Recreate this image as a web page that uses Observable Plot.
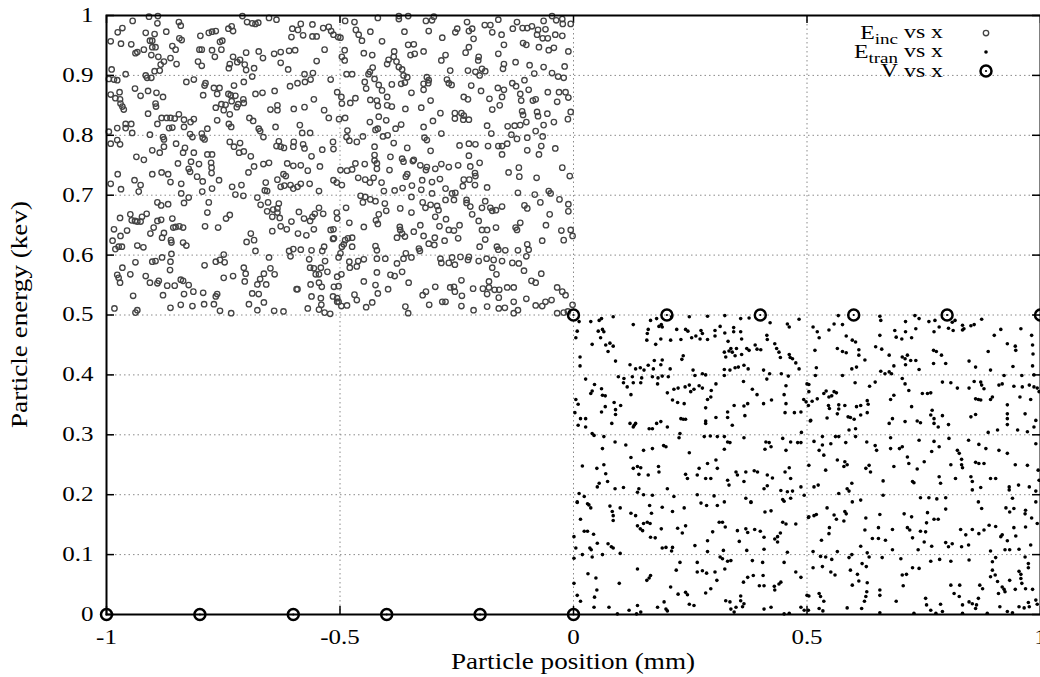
<!DOCTYPE html>
<html>
<head>
<meta charset="utf-8">
<script src="https://cdn.jsdelivr.net/npm/d3@7"></script>
<script src="https://cdn.jsdelivr.net/npm/@observablehq/plot@0.6"></script>
<style>
  html, body { margin: 0; padding: 0; background: #fff; }
  #chart { width: 1040px; height: 677px; }
</style>
</head>
<body>
<div id="chart"></div>
<script>
// ---- Data ----
const xTicks = [-1, -0.5, 0, 0.5, 1];
const xTickLabels = ["-1", "-0.5", "0", "0.5", "1"];
const yTicks = [0, 0.1, 0.2, 0.3, 0.4, 0.5, 0.6, 0.7, 0.8, 0.9, 1];
const yTickLabels = ["0", "0.1", "0.2", "0.3", "0.4", "0.5", "0.6", "0.7", "0.8", "0.9", "1"];

// E_inc vs x  (x, E)
const eInc = [
[-0.909,0.998],[-0.890,0.999],[-0.944,0.991],[-0.891,0.987],[-0.845,0.989],[-0.841,0.983],[-0.709,0.999],[-0.699,0.989],[-0.688,0.987],[-0.681,0.986],[-0.675,0.988],[-0.652,0.996],[-0.636,0.993],[-0.602,0.978],[-0.584,0.986],[-0.559,0.985],[-0.536,0.979],[-0.524,0.981],[-0.519,0.974],[-0.514,0.968],[-0.504,0.964],[-0.966,0.979],[-0.976,0.972],[-0.991,0.957],[-0.969,0.953],[-0.916,0.971],[-0.897,0.969],[-0.902,0.958],[-0.907,0.958],[-0.872,0.973],[-0.839,0.959],[-0.844,0.962],[-0.799,0.966],[-0.781,0.971],[-0.774,0.973],[-0.766,0.974],[-0.739,0.978],[-0.732,0.982],[-0.729,0.974],[-0.757,0.956],[-0.752,0.958],[-0.604,0.964],[-0.590,0.976],[-0.579,0.967],[-0.559,0.965],[-0.550,0.965],[-0.947,0.952],[-0.938,0.937],[-0.934,0.939],[-0.920,0.943],[-0.902,0.947],[-0.895,0.947],[-0.859,0.949],[-0.852,0.943],[-0.904,0.934],[-0.889,0.931],[-0.877,0.923],[-0.863,0.929],[-0.850,0.919],[-0.884,0.918],[-0.897,0.907],[-0.886,0.908],[-0.916,0.900],[-0.913,0.896],[-0.904,0.896],[-0.959,0.902],[-0.989,0.910],[-0.995,0.894],[-0.984,0.893],[-0.977,0.892],[-0.801,0.943],[-0.796,0.943],[-0.774,0.942],[-0.754,0.943],[-0.768,0.931],[-0.804,0.923],[-0.796,0.916],[-0.729,0.931],[-0.701,0.938],[-0.674,0.940],[-0.665,0.929],[-0.641,0.936],[-0.627,0.939],[-0.609,0.941],[-0.596,0.942],[-0.627,0.921],[-0.611,0.910],[-0.736,0.919],[-0.738,0.912],[-0.720,0.922],[-0.714,0.926],[-0.704,0.918],[-0.701,0.909],[-0.684,0.912],[-0.688,0.898],[-0.576,0.902],[-0.558,0.904],[-0.563,0.893],[-0.550,0.924],[-0.533,0.943],[-0.520,0.893],[-0.506,0.872],[-0.575,0.889],[-0.591,0.887],
[-0.939,0.878],[-0.911,0.874],[-0.927,0.866],[-0.991,0.868],[-0.981,0.862],[-0.971,0.860],[-0.970,0.853],[-0.966,0.848],[-0.963,0.843],[-0.972,0.872],[-0.893,0.871],[-0.895,0.853],[-0.894,0.848],[-0.879,0.864],[-0.829,0.889],[-0.813,0.893],[-0.788,0.887],[-0.790,0.883],[-0.770,0.879],[-0.758,0.879],[-0.763,0.869],[-0.739,0.869],[-0.734,0.867],[-0.724,0.866],[-0.793,0.867],[-0.707,0.860],[-0.706,0.854],[-0.706,0.889],[-0.727,0.883],[-0.681,0.869],[-0.666,0.871],[-0.640,0.874],[-0.607,0.882],[-0.718,0.852],[-0.721,0.847],[-0.732,0.857],[-0.745,0.851],[-0.754,0.852],[-0.766,0.846],[-0.749,0.842],[-0.736,0.835],[-0.634,0.850],[-0.634,0.842],[-0.649,0.843],[-0.599,0.844],[-0.576,0.847],[-0.556,0.860],[-0.534,0.842],[-0.524,0.829],[-0.502,0.827],[-0.911,0.836],[-0.882,0.829],[-0.871,0.829],[-0.863,0.829],[-0.854,0.828],[-0.845,0.835],[-0.834,0.826],[-0.813,0.827],[-0.820,0.822],[-0.763,0.825],[-0.738,0.819],[-0.733,0.814],[-0.694,0.829],[-0.686,0.824],[-0.674,0.811],[-0.671,0.807],[-0.664,0.797],[-0.638,0.814],[-0.586,0.817],[-0.581,0.804],[-0.564,0.804],[-0.959,0.819],[-0.947,0.819],[-0.977,0.812],[-0.959,0.812],[-0.945,0.804],[-0.995,0.806],[-0.891,0.819],[-0.866,0.812],[-0.859,0.813],[-0.834,0.814],[-0.784,0.811],[-0.907,0.801],[-0.879,0.797],[-0.877,0.793],[-0.991,0.786],[-0.977,0.792],[-0.971,0.785],[-0.851,0.786],[-0.877,0.781],[-0.902,0.775],[-0.886,0.771],[-0.832,0.779],[-0.836,0.771],[-0.821,0.802],[-0.816,0.797],[-0.796,0.803],[-0.794,0.796],[-0.790,0.793],[-0.736,0.789],[-0.727,0.781],[-0.714,0.787],[-0.716,0.771],[-0.706,0.773],[-0.784,0.768],[-0.774,0.768],[-0.813,0.771],[-0.691,0.765],[-0.631,0.790],[-0.636,0.782],[-0.627,0.781],[-0.620,0.779],[-0.599,0.789],[-0.600,0.781],[-0.579,0.785],[-0.576,0.778],[-0.561,0.765],[-0.538,0.776],[-0.515,0.789],[-0.514,0.777],[-0.936,0.764],[-0.920,0.759],
[-0.976,0.735],[-0.969,0.710],[-0.940,0.725],[-0.927,0.717],[-0.931,0.706],[-0.902,0.735],[-0.882,0.738],[-0.868,0.735],[-0.863,0.722],[-0.847,0.753],[-0.840,0.719],[-0.824,0.744],[-0.821,0.739],[-0.819,0.756],[-0.802,0.752],[-0.806,0.731],[-0.794,0.723],[-0.776,0.754],[-0.775,0.746],[-0.775,0.737],[-0.759,0.725],[-0.731,0.714],[-0.711,0.717],[-0.724,0.701],[-0.707,0.699],[-0.696,0.738],[-0.684,0.748],[-0.664,0.752],[-0.652,0.754],[-0.613,0.753],[-0.600,0.749],[-0.584,0.750],[-0.569,0.741],[-0.543,0.748],[-0.514,0.725],[-0.507,0.721],[-0.616,0.732],[-0.621,0.735],[-0.634,0.726],[-0.627,0.714],[-0.619,0.716],[-0.606,0.717],[-0.600,0.711],[-0.591,0.714],[-0.584,0.719],[-0.565,0.719],[-0.545,0.707],[-0.661,0.708],[-0.656,0.707],[-0.659,0.721],[-0.677,0.696],[-0.840,0.703],[-0.824,0.696],[-0.834,0.687],[-0.795,0.706],[-0.774,0.711],[-0.991,0.719],[-0.891,0.688],[-0.883,0.683],[-0.868,0.685],[-0.781,0.688],[-0.784,0.671],[-0.736,0.667],[-0.744,0.661],[-0.670,0.684],[-0.654,0.688],[-0.631,0.686],[-0.656,0.673],[-0.643,0.676],[-0.634,0.678],[-0.634,0.671],[-0.645,0.664],[-0.629,0.662],[-0.604,0.656],[-0.588,0.672],[-0.577,0.661],[-0.564,0.657],[-0.545,0.679],[-0.536,0.669],[-0.507,0.671],[-0.554,0.669],[-0.559,0.664],[-0.614,0.643],[-0.645,0.640],[-0.627,0.648],[-0.590,0.636],[-0.572,0.633],[-0.556,0.643],[-0.514,0.643],[-0.513,0.628],
[-0.971,0.662],[-0.949,0.668],[-0.946,0.658],[-0.939,0.657],[-0.934,0.656],[-0.927,0.656],[-0.924,0.664],[-0.914,0.669],[-0.891,0.657],[-0.883,0.659],[-0.859,0.661],[-0.857,0.646],[-0.852,0.647],[-0.844,0.648],[-0.836,0.646],[-0.877,0.637],[-0.899,0.646],[-0.906,0.636],[-0.881,0.629],[-0.862,0.625],[-0.861,0.621],[-0.836,0.621],[-0.829,0.616],[-0.956,0.641],[-0.970,0.632],[-0.984,0.643],[-0.987,0.624],[-0.981,0.610],[-0.974,0.614],[-0.967,0.614],[-0.934,0.616],[-0.921,0.613],[-0.789,0.648],[-0.761,0.646],[-0.691,0.636],[-0.684,0.625],[-0.700,0.622],[-0.681,0.607],[-0.609,0.607],[-0.600,0.610],[-0.584,0.609],[-0.606,0.598],[-0.561,0.608],[-0.538,0.607],[-0.534,0.614],[-0.520,0.642],[-0.515,0.627],[-0.902,0.589],[-0.895,0.590],[-0.881,0.596],[-0.861,0.602],[-0.863,0.589],[-0.864,0.575],[-0.938,0.588],[-0.949,0.568],[-0.977,0.567],[-0.974,0.562],[-0.971,0.554],[-0.966,0.579],[-0.916,0.565],[-0.907,0.554],[-0.891,0.553],[-0.888,0.557],[-0.870,0.549],[-0.854,0.549],[-0.841,0.559],[-0.836,0.557],[-0.824,0.550],[-0.790,0.583],[-0.766,0.589],[-0.757,0.592],[-0.749,0.601],[-0.747,0.588],[-0.749,0.562],[-0.729,0.565],[-0.706,0.579],[-0.702,0.569],[-0.704,0.556],[-0.677,0.551],[-0.671,0.560],[-0.663,0.569],[-0.658,0.551],[-0.652,0.596],[-0.649,0.578],[-0.640,0.568],[-0.566,0.593],[-0.564,0.579],[-0.556,0.578],[-0.541,0.579],[-0.552,0.568],[-0.545,0.568],[-0.527,0.572],[-0.532,0.590],[-0.506,0.564],[-0.591,0.543],[-0.563,0.551],[-0.545,0.554],[-0.539,0.547],[-0.513,0.547],[-0.561,0.531],[-0.541,0.528],[-0.515,0.531],[-0.506,0.522],[-0.943,0.532],[-0.983,0.511],[-0.934,0.508],[-0.938,0.504],[-0.879,0.533],[-0.863,0.512],[-0.834,0.535],[-0.816,0.515],[-0.814,0.539],[-0.791,0.518],[-0.793,0.537],[-0.770,0.518],[-0.766,0.531],[-0.763,0.535],[-0.757,0.507],[-0.733,0.503],[-0.695,0.518],[-0.677,0.508],[-0.663,0.521],[-0.641,0.507],[-0.621,0.506],[-0.593,0.543],[-0.569,0.511],[-0.545,0.509],[-0.540,0.517],[-0.533,0.504],[-0.521,0.502],[-0.674,0.535],[-0.688,0.536],[-0.841,0.517],
[-0.489,0.991],[-0.469,0.989],[-0.419,0.996],[-0.374,0.999],[-0.354,0.999],[-0.374,0.994],[-0.316,0.991],[-0.303,0.992],[-0.299,0.998],[-0.466,0.976],[-0.460,0.968],[-0.453,0.958],[-0.435,0.973],[-0.410,0.957],[-0.362,0.973],[-0.354,0.951],[-0.342,0.952],[-0.281,0.963],[-0.310,0.974],[-0.253,0.972],[-0.249,0.978],[-0.228,0.989],[-0.224,0.974],[-0.217,0.978],[-0.214,0.961],[-0.190,0.984],[-0.178,0.984],[-0.174,0.972],[-0.161,0.993],[-0.154,0.968],[-0.130,0.978],[-0.121,0.989],[-0.109,0.979],[-0.099,0.979],[-0.089,0.982],[-0.076,0.976],[-0.078,0.968],[-0.066,0.962],[-0.055,0.962],[-0.060,0.977],[-0.039,0.968],[-0.024,0.966],[-0.037,0.992],[-0.024,0.994],[-0.023,0.986],[-0.046,0.999],[-0.006,0.986],[-0.064,0.991],[-0.149,0.951],[-0.161,0.936],[-0.108,0.954],[-0.101,0.951],[-0.074,0.947],[-0.053,0.942],[-0.042,0.946],[-0.011,0.940],[-0.499,0.963],[-0.490,0.942],[-0.496,0.931],[-0.490,0.925],[-0.431,0.934],[-0.449,0.937],[-0.399,0.919],[-0.396,0.926],[-0.385,0.931],[-0.379,0.923],[-0.384,0.940],[-0.374,0.914],[-0.367,0.910],[-0.349,0.934],[-0.340,0.936],[-0.321,0.940],[-0.283,0.925],[-0.274,0.934],[-0.231,0.938],[-0.224,0.947],[-0.203,0.931],[-0.204,0.925],[-0.196,0.911],[-0.189,0.907],[-0.201,0.900],[-0.226,0.908],[-0.210,0.906],[-0.149,0.919],[-0.151,0.911],[-0.124,0.922],[-0.094,0.917],[-0.084,0.903],[-0.064,0.914],[-0.046,0.904],[-0.033,0.898],[-0.021,0.896],[-0.019,0.915],
[-0.486,0.902],[-0.474,0.902],[-0.447,0.889],[-0.444,0.878],[-0.439,0.902],[-0.430,0.913],[-0.436,0.906],[-0.426,0.894],[-0.417,0.884],[-0.410,0.875],[-0.421,0.858],[-0.435,0.859],[-0.399,0.864],[-0.389,0.885],[-0.364,0.900],[-0.356,0.897],[-0.361,0.888],[-0.369,0.886],[-0.347,0.871],[-0.321,0.886],[-0.311,0.887],[-0.310,0.892],[-0.321,0.876],[-0.314,0.897],[-0.271,0.893],[-0.267,0.887],[-0.261,0.884],[-0.264,0.908],[-0.306,0.858],[-0.326,0.846],[-0.360,0.844],[-0.389,0.848],[-0.399,0.850],[-0.419,0.849],[-0.417,0.831],[-0.497,0.864],[-0.496,0.853],[-0.478,0.854],[-0.467,0.862],[-0.489,0.829],[-0.484,0.808],[-0.486,0.797],[-0.480,0.791],[-0.464,0.789],[-0.451,0.798],[-0.436,0.822],[-0.424,0.809],[-0.419,0.811],[-0.408,0.798],[-0.398,0.800],[-0.401,0.825],[-0.381,0.811],[-0.369,0.818],[-0.385,0.787],[-0.356,0.779],[-0.321,0.814],[-0.319,0.796],[-0.314,0.792],[-0.301,0.824],[-0.285,0.837],[-0.283,0.803],[-0.254,0.837],[-0.254,0.828],[-0.240,0.837],[-0.235,0.833],[-0.236,0.826],[-0.224,0.826],[-0.235,0.864],[-0.226,0.860],[-0.219,0.883],[-0.198,0.874],[-0.180,0.861],[-0.162,0.879],[-0.153,0.864],[-0.149,0.876],[-0.174,0.843],[-0.158,0.850],[-0.185,0.816],[-0.176,0.803],[-0.131,0.887],[-0.123,0.882],[-0.114,0.869],[-0.112,0.858],[-0.096,0.876],[-0.105,0.892],[-0.087,0.858],[-0.081,0.860],[-0.055,0.872],[-0.031,0.872],[-0.035,0.856],[-0.011,0.863],[-0.017,0.872],[-0.110,0.840],[-0.108,0.834],[-0.078,0.839],[-0.076,0.832],[-0.056,0.836],[-0.042,0.822],[-0.064,0.817],[-0.101,0.822],[-0.114,0.817],[-0.126,0.816],[-0.141,0.815],[-0.012,0.827],[-0.006,0.839],[-0.133,0.801],[-0.121,0.794],[-0.099,0.796],[-0.081,0.807],[-0.066,0.798],[-0.244,0.783],[-0.224,0.786],[-0.210,0.785],[-0.183,0.782],[-0.161,0.782],[-0.153,0.782],[-0.142,0.786],[-0.426,0.781],[-0.426,0.767],[-0.392,0.764],[-0.367,0.761],[-0.342,0.759],[-0.224,0.766],[-0.153,0.768],[-0.099,0.775],[-0.074,0.768],[-0.069,0.782],[-0.039,0.778],[-0.306,0.774],
[-0.499,0.742],[-0.485,0.741],[-0.474,0.743],[-0.467,0.753],[-0.447,0.752],[-0.421,0.753],[-0.421,0.744],[-0.394,0.742],[-0.426,0.758],[-0.461,0.729],[-0.446,0.726],[-0.428,0.729],[-0.411,0.721],[-0.364,0.756],[-0.356,0.735],[-0.359,0.731],[-0.344,0.757],[-0.328,0.750],[-0.314,0.747],[-0.316,0.742],[-0.296,0.744],[-0.283,0.752],[-0.267,0.747],[-0.247,0.750],[-0.221,0.748],[-0.201,0.754],[-0.211,0.737],[-0.210,0.732],[-0.223,0.726],[-0.235,0.726],[-0.211,0.717],[-0.237,0.715],[-0.185,0.713],[-0.139,0.738],[-0.117,0.746],[-0.116,0.731],[-0.079,0.729],[-0.024,0.746],[-0.008,0.732],[-0.496,0.717],[-0.436,0.721],[-0.406,0.707],[-0.383,0.708],[-0.366,0.712],[-0.346,0.716],[-0.324,0.725],[-0.303,0.722],[-0.286,0.727],[-0.326,0.709],[-0.303,0.703],[-0.274,0.711],[-0.456,0.699],[-0.446,0.697],[-0.451,0.688],[-0.435,0.693],[-0.424,0.690],[-0.404,0.686],[-0.401,0.674],[-0.417,0.668],[-0.423,0.658],[-0.371,0.678],[-0.347,0.671],[-0.347,0.697],[-0.323,0.688],[-0.317,0.679],[-0.306,0.684],[-0.292,0.682],[-0.289,0.675],[-0.296,0.664],[-0.274,0.692],[-0.256,0.692],[-0.260,0.703],[-0.253,0.704],[-0.229,0.692],[-0.229,0.687],[-0.221,0.681],[-0.217,0.668],[-0.203,0.657],[-0.189,0.690],[-0.196,0.679],[-0.178,0.679],[-0.174,0.674],[-0.166,0.675],[-0.153,0.681],[-0.119,0.704],[-0.105,0.683],[-0.099,0.678],[-0.083,0.701],[-0.071,0.688],[-0.053,0.707],[-0.049,0.703],[-0.030,0.693],[-0.011,0.685],[-0.011,0.673],[-0.051,0.668],[-0.487,0.679],[-0.506,0.661],[-0.480,0.654],
[-0.489,0.625],[-0.483,0.628],[-0.474,0.629],[-0.492,0.618],[-0.474,0.614],[-0.496,0.614],[-0.499,0.603],[-0.503,0.596],[-0.449,0.647],[-0.419,0.652],[-0.424,0.615],[-0.421,0.608],[-0.372,0.647],[-0.371,0.642],[-0.367,0.636],[-0.378,0.629],[-0.361,0.631],[-0.342,0.639],[-0.328,0.650],[-0.321,0.632],[-0.310,0.619],[-0.298,0.617],[-0.297,0.629],[-0.287,0.648],[-0.273,0.660],[-0.256,0.641],[-0.267,0.642],[-0.276,0.624],[-0.247,0.628],[-0.244,0.650],[-0.196,0.642],[-0.185,0.642],[-0.189,0.626],[-0.201,0.614],[-0.166,0.646],[-0.124,0.646],[-0.121,0.642],[-0.114,0.654],[-0.059,0.650],[-0.026,0.641],[-0.006,0.642],[-0.002,0.632],[-0.021,0.625],[-0.067,0.624],[-0.099,0.618],[-0.119,0.608],[-0.096,0.609],[-0.146,0.608],[-0.164,0.614],[-0.161,0.609],[-0.331,0.611],[-0.329,0.607],[-0.359,0.603],[-0.497,0.568],[-0.503,0.548],[-0.506,0.528],[-0.497,0.515],[-0.485,0.516],[-0.480,0.589],[-0.479,0.579],[-0.464,0.581],[-0.461,0.590],[-0.449,0.593],[-0.421,0.594],[-0.421,0.571],[-0.403,0.594],[-0.378,0.586],[-0.364,0.594],[-0.347,0.596],[-0.392,0.567],[-0.383,0.565],[-0.367,0.572],[-0.353,0.554],[-0.285,0.594],[-0.283,0.587],[-0.267,0.587],[-0.260,0.596],[-0.254,0.584],[-0.242,0.597],[-0.224,0.597],[-0.226,0.592],[-0.203,0.590],[-0.186,0.594],[-0.174,0.579],[-0.171,0.592],[-0.165,0.568],[-0.153,0.590],[-0.131,0.587],[-0.117,0.586],[-0.101,0.598],[-0.106,0.574],[-0.081,0.554],[-0.069,0.569],[-0.090,0.557],[-0.449,0.556],[-0.424,0.550],[-0.397,0.543],[-0.419,0.536],[-0.431,0.521],[-0.444,0.513],[-0.464,0.525],[-0.469,0.534],[-0.323,0.533],[-0.316,0.539],[-0.296,0.547],[-0.274,0.522],[-0.264,0.546],[-0.256,0.547],[-0.254,0.539],[-0.240,0.558],[-0.239,0.532],[-0.215,0.544],[-0.214,0.508],[-0.194,0.544],[-0.181,0.556],[-0.181,0.546],[-0.185,0.535],[-0.169,0.542],[-0.159,0.542],[-0.160,0.529],[-0.142,0.546],[-0.128,0.546],[-0.128,0.522],[-0.101,0.527],[-0.081,0.516],[-0.067,0.515],[-0.060,0.522],[-0.047,0.525],[-0.035,0.546],[-0.024,0.539],[-0.017,0.533],[-0.035,0.503],[-0.021,0.504],[-0.012,0.506],[-0.002,0.517],[-0.360,0.514],[-0.354,0.503],[-0.309,0.517],[-0.281,0.522],[-0.240,0.515],[-0.185,0.514],[-0.160,0.511],[-0.147,0.512],[-0.128,0.503],[-0.119,0.508],[-0.503,0.522]
];

// E_tran vs x  (x, E)
const eTran = [
[0.012,0.489],[0.037,0.489],[0.055,0.491],[0.060,0.494],[0.085,0.497],[0.128,0.484],[0.165,0.491],[0.178,0.494],[0.188,0.484],[0.210,0.497],[0.248,0.497],[0.287,0.498],[0.324,0.499],[0.358,0.494],[0.376,0.495],[0.421,0.487],[0.458,0.485],[0.462,0.480],[0.483,0.493],[0.005,0.462],[0.008,0.473],[0.053,0.473],[0.062,0.476],[0.065,0.472],[0.058,0.462],[0.040,0.451],[0.069,0.450],[0.078,0.453],[0.085,0.448],[0.074,0.439],[0.014,0.430],[0.014,0.415],[0.090,0.423],[0.121,0.417],[0.133,0.410],[0.143,0.412],[0.158,0.469],[0.157,0.458],[0.160,0.476],[0.183,0.481],[0.190,0.480],[0.187,0.460],[0.176,0.451],[0.208,0.458],[0.221,0.476],[0.230,0.459],[0.232,0.426],[0.235,0.432],[0.240,0.476],[0.245,0.473],[0.253,0.462],[0.262,0.465],[0.273,0.474],[0.271,0.460],[0.276,0.469],[0.287,0.459],[0.303,0.465],[0.303,0.474],[0.314,0.481],[0.324,0.470],[0.343,0.479],[0.343,0.472],[0.331,0.456],[0.360,0.460],[0.358,0.472],[0.337,0.444],[0.333,0.440],[0.340,0.438],[0.349,0.444],[0.326,0.430],[0.323,0.438],[0.346,0.432],[0.360,0.434],[0.371,0.444],[0.376,0.441],[0.389,0.450],[0.393,0.443],[0.401,0.442],[0.414,0.466],[0.415,0.459],[0.431,0.452],[0.435,0.444],[0.440,0.438],[0.443,0.429],[0.462,0.434],[0.464,0.429],[0.476,0.420],[0.469,0.427],[0.483,0.410],[0.173,0.424],[0.187,0.417],[0.190,0.425],[0.171,0.410],[0.207,0.410],[0.160,0.416],[0.151,0.408],[0.323,0.409],[0.335,0.408],[0.346,0.412],[0.353,0.413],[0.365,0.416],[0.374,0.410],[0.323,0.399],[0.256,0.408],[0.260,0.399],[0.276,0.402],[0.283,0.400],[0.407,0.408],[0.420,0.402],[0.445,0.402],[0.460,0.398],
[0.026,0.393],[0.040,0.373],[0.037,0.369],[0.045,0.384],[0.060,0.377],[0.062,0.366],[0.068,0.365],[0.068,0.347],[0.060,0.338],[0.005,0.359],[0.010,0.351],[0.003,0.337],[0.015,0.327],[0.026,0.327],[0.026,0.313],[0.010,0.316],[0.087,0.354],[0.090,0.342],[0.090,0.334],[0.082,0.319],[0.101,0.349],[0.096,0.397],[0.108,0.394],[0.107,0.387],[0.126,0.397],[0.128,0.387],[0.144,0.387],[0.115,0.380],[0.123,0.367],[0.146,0.395],[0.169,0.397],[0.181,0.395],[0.180,0.385],[0.190,0.398],[0.203,0.397],[0.201,0.370],[0.212,0.358],[0.215,0.376],[0.224,0.378],[0.223,0.354],[0.237,0.352],[0.248,0.383],[0.239,0.380],[0.251,0.372],[0.258,0.376],[0.269,0.382],[0.276,0.378],[0.287,0.359],[0.295,0.374],[0.294,0.363],[0.305,0.385],[0.283,0.345],[0.230,0.327],[0.235,0.326],[0.240,0.326],[0.283,0.323],[0.283,0.319],[0.305,0.329],[0.330,0.338],[0.330,0.329],[0.340,0.316],[0.344,0.349],[0.365,0.348],[0.367,0.332],[0.373,0.352],[0.364,0.389],[0.383,0.376],[0.393,0.367],[0.407,0.352],[0.414,0.393],[0.424,0.358],[0.455,0.382],[0.451,0.367],[0.455,0.352],[0.453,0.337],[0.473,0.337],[0.493,0.359],[0.498,0.355],[0.500,0.385],[0.487,0.338],[0.507,0.323],[0.121,0.319],[0.130,0.316],[0.133,0.319],[0.128,0.313],[0.178,0.319],[0.187,0.322],[0.169,0.310],[0.162,0.310],[0.201,0.313],[0.228,0.302],[0.226,0.295],[0.248,0.270],[0.280,0.297],[0.293,0.298],[0.308,0.297],[0.323,0.297],[0.330,0.288],[0.335,0.287],[0.323,0.276],[0.365,0.295],[0.412,0.288],[0.419,0.287],[0.410,0.276],[0.423,0.280],[0.448,0.294],[0.465,0.288],[0.480,0.287],[0.487,0.287],[0.488,0.304],[0.455,0.274],[0.040,0.302],[0.044,0.299],[0.065,0.297],[0.062,0.277],[0.089,0.288],[0.112,0.283],[0.123,0.262],[0.150,0.274],[0.169,0.277],[0.193,0.282],[0.198,0.280],
[0.019,0.248],[0.065,0.250],[0.050,0.244],[0.069,0.235],[0.128,0.244],[0.137,0.247],[0.144,0.245],[0.140,0.234],[0.182,0.247],[0.160,0.233],[0.183,0.238],[0.269,0.244],[0.287,0.252],[0.305,0.258],[0.308,0.244],[0.348,0.238],[0.351,0.233],[0.369,0.238],[0.387,0.240],[0.394,0.238],[0.415,0.233],[0.426,0.228],[0.453,0.238],[0.462,0.245],[0.465,0.227],[0.265,0.233],[0.240,0.234],[0.244,0.227],[0.283,0.227],[0.294,0.227],[0.330,0.224],[0.365,0.222],[0.055,0.219],[0.051,0.213],[0.073,0.222],[0.089,0.210],[0.107,0.212],[0.140,0.210],[0.137,0.204],[0.150,0.200],[0.169,0.199],[0.201,0.210],[0.215,0.197],[0.333,0.216],[0.408,0.210],[0.415,0.215],[0.444,0.207],[0.458,0.205],[0.469,0.206],[0.023,0.197],[0.012,0.202],[0.008,0.188],[0.030,0.185],[0.265,0.200],[0.301,0.198],[0.323,0.188],[0.369,0.194],[0.380,0.188],[0.448,0.192],[0.465,0.194],[0.494,0.199],[0.487,0.213],
[0.008,0.187],[0.033,0.183],[0.037,0.178],[0.078,0.181],[0.100,0.178],[0.163,0.182],[0.190,0.179],[0.237,0.178],[0.273,0.186],[0.285,0.182],[0.308,0.182],[0.380,0.187],[0.451,0.189],[0.015,0.159],[0.023,0.139],[0.030,0.139],[0.043,0.134],[0.001,0.130],[0.005,0.111],[0.001,0.094],[0.019,0.100],[0.035,0.111],[0.038,0.108],[0.040,0.096],[0.051,0.119],[0.062,0.100],[0.074,0.118],[0.081,0.113],[0.085,0.111],[0.100,0.102],[0.083,0.172],[0.085,0.165],[0.085,0.157],[0.123,0.169],[0.133,0.165],[0.143,0.143],[0.137,0.148],[0.150,0.152],[0.158,0.154],[0.164,0.152],[0.167,0.169],[0.148,0.140],[0.165,0.129],[0.175,0.128],[0.188,0.143],[0.212,0.172],[0.223,0.144],[0.233,0.136],[0.240,0.148],[0.190,0.111],[0.198,0.112],[0.212,0.112],[0.210,0.106],[0.137,0.076],[0.162,0.061],[0.157,0.057],[0.165,0.065],[0.098,0.052],[0.031,0.068],[0.048,0.061],[0.050,0.041],[0.045,0.029],[0.044,0.012],[0.001,0.052],[0.008,0.032],[0.015,0.022],[0.119,0.007],[0.137,0.015],[0.144,0.004],[0.180,0.012],[0.194,0.021],[0.198,0.009],[0.201,0.006],[0.208,0.046],[0.220,0.074],[0.224,0.034],[0.228,0.087],[0.240,0.037],[0.244,0.033],[0.248,0.017],[0.258,0.015],[0.260,0.115],[0.265,0.087],[0.265,0.071],[0.276,0.073],[0.283,0.036],[0.285,0.069],[0.287,0.105],[0.287,0.123],[0.294,0.043],[0.298,0.138],[0.303,0.071],[0.307,0.057],[0.312,0.154],[0.319,0.154],[0.325,0.146],[0.321,0.107],[0.319,0.093],[0.324,0.076],[0.330,0.089],[0.337,0.090],[0.314,0.096],[0.326,0.023],[0.335,0.021],[0.337,0.009],[0.344,0.004],[0.348,0.012],[0.358,0.023],[0.362,0.013],[0.364,0.054],[0.358,0.031],[0.365,0.018],[0.373,0.062],[0.351,0.140],[0.355,0.122],[0.369,0.143],[0.373,0.137],[0.371,0.107],[0.383,0.090],[0.385,0.065],[0.388,0.142],[0.400,0.139],[0.405,0.087],[0.408,0.109],[0.408,0.129],[0.410,0.171],[0.423,0.173],[0.431,0.126],[0.437,0.130],[0.443,0.136],[0.437,0.121],[0.448,0.154],[0.455,0.151],[0.451,0.087],[0.458,0.104],[0.430,0.047],[0.431,0.041],[0.408,0.048],[0.398,0.048],[0.406,0.065],[0.440,0.051],[0.444,0.054],[0.423,0.012],[0.408,0.009],[0.451,0.001],[0.462,0.002],[0.476,0.071],[0.487,0.062],[0.487,0.012],[0.494,0.007],[0.500,0.032],[0.503,0.162],[0.476,0.151],[0.503,0.007],[0.094,0.001],[0.076,0.012],[0.135,0.001],
[0.567,0.499],[0.656,0.498],[0.658,0.491],[0.711,0.489],[0.731,0.499],[0.740,0.494],[0.761,0.489],[0.774,0.491],[0.811,0.488],[0.817,0.491],[0.833,0.483],[0.836,0.477],[0.851,0.482],[0.858,0.484],[0.874,0.493],[0.513,0.480],[0.522,0.472],[0.526,0.462],[0.547,0.475],[0.558,0.485],[0.576,0.484],[0.584,0.465],[0.597,0.458],[0.604,0.455],[0.565,0.444],[0.576,0.439],[0.584,0.437],[0.611,0.442],[0.611,0.433],[0.624,0.425],[0.596,0.410],[0.606,0.413],[0.517,0.441],[0.520,0.412],[0.518,0.399],[0.647,0.447],[0.660,0.443],[0.656,0.466],[0.676,0.433],[0.688,0.474],[0.691,0.463],[0.703,0.460],[0.711,0.472],[0.724,0.462],[0.733,0.477],[0.772,0.472],[0.783,0.480],[0.803,0.478],[0.813,0.474],[0.833,0.475],[0.704,0.430],[0.710,0.427],[0.715,0.433],[0.711,0.417],[0.722,0.424],[0.733,0.424],[0.740,0.409],[0.686,0.415],[0.676,0.405],[0.658,0.406],[0.667,0.402],[0.681,0.402],[0.771,0.441],[0.777,0.439],[0.788,0.433],[0.771,0.419],[0.797,0.419],[0.847,0.423],[0.861,0.413],[0.888,0.439],[0.901,0.466],[0.915,0.476],[0.929,0.452],[0.946,0.448],[0.947,0.441],[0.958,0.477],[0.981,0.466],[0.983,0.450],[0.984,0.435],[0.983,0.415],[0.941,0.414],[0.893,0.408],[0.922,0.399],[0.960,0.399],[0.986,0.400],
[0.576,0.399],[0.603,0.387],[0.634,0.381],[0.646,0.388],[0.679,0.359],[0.686,0.366],[0.704,0.394],[0.710,0.385],[0.718,0.374],[0.747,0.369],[0.758,0.369],[0.765,0.370],[0.790,0.388],[0.808,0.387],[0.822,0.378],[0.847,0.378],[0.858,0.389],[0.872,0.388],[0.874,0.383],[0.879,0.377],[0.861,0.360],[0.867,0.359],[0.872,0.358],[0.893,0.359],[0.897,0.363],[0.911,0.383],[0.918,0.385],[0.929,0.350],[0.943,0.381],[0.961,0.380],[0.976,0.383],[0.986,0.380],[0.993,0.378],[0.997,0.372],[0.956,0.363],[0.979,0.359],[0.504,0.384],[0.504,0.372],[0.503,0.349],[0.511,0.356],[0.536,0.369],[0.541,0.373],[0.547,0.363],[0.553,0.365],[0.558,0.372],[0.563,0.370],[0.522,0.360],[0.546,0.349],[0.548,0.344],[0.568,0.350],[0.568,0.343],[0.581,0.349],[0.565,0.335],[0.543,0.328],[0.508,0.324],[0.588,0.330],[0.593,0.329],[0.601,0.326],[0.615,0.333],[0.629,0.337],[0.606,0.347],[0.615,0.349],[0.629,0.357],[0.631,0.351],[0.590,0.308],[0.604,0.310],[0.676,0.319],[0.683,0.327],[0.710,0.322],[0.724,0.347],[0.736,0.323],[0.743,0.320],[0.768,0.341],[0.772,0.327],[0.772,0.319],[0.765,0.333],[0.781,0.313],[0.790,0.332],[0.803,0.317],[0.851,0.330],[0.861,0.334],[0.888,0.304],[0.908,0.308],[0.929,0.335],[0.929,0.327],[0.929,0.317],[0.951,0.308],[0.967,0.335],[0.972,0.305],[0.986,0.313],[0.990,0.324],
[0.515,0.289],[0.533,0.297],[0.561,0.297],[0.568,0.297],[0.536,0.266],[0.533,0.283],[0.526,0.274],[0.551,0.285],[0.583,0.287],[0.604,0.297],[0.586,0.250],[0.579,0.247],[0.581,0.255],[0.540,0.241],[0.565,0.258],[0.628,0.288],[0.646,0.282],[0.649,0.274],[0.626,0.244],[0.633,0.249],[0.636,0.238],[0.679,0.295],[0.679,0.277],[0.698,0.277],[0.704,0.280],[0.715,0.263],[0.718,0.252],[0.740,0.291],[0.736,0.243],[0.751,0.255],[0.772,0.289],[0.767,0.272],[0.783,0.280],[0.804,0.294],[0.808,0.250],[0.822,0.274],[0.826,0.269],[0.831,0.259],[0.831,0.250],[0.833,0.245],[0.846,0.291],[0.861,0.254],[0.868,0.252],[0.879,0.252],[0.868,0.284],[0.883,0.277],[0.911,0.274],[0.929,0.269],[0.946,0.250],[0.972,0.249],[0.990,0.285],[0.995,0.241],[0.686,0.247],[0.726,0.222],[0.783,0.230],[0.818,0.227],[0.851,0.230],[0.854,0.222],[0.893,0.227],[0.904,0.227],[0.515,0.213],[0.524,0.216],[0.586,0.210],[0.590,0.206],[0.596,0.219],[0.663,0.223],[0.729,0.220],[0.786,0.219],[0.872,0.212],[0.933,0.213],[0.933,0.208],[0.953,0.216],[0.976,0.213],[0.990,0.206],[0.997,0.224],[0.504,0.249],[0.854,0.208],[0.568,0.202],[0.597,0.188],[0.615,0.191],[0.663,0.199],[0.743,0.195],[0.761,0.195],[0.778,0.193],[0.797,0.195],[0.867,0.188],[0.940,0.194],[0.990,0.188],
[0.504,0.163],[0.515,0.165],[0.520,0.167],[0.543,0.178],[0.558,0.166],[0.563,0.159],[0.581,0.172],[0.584,0.168],[0.579,0.156],[0.626,0.161],[0.656,0.167],[0.708,0.168],[0.724,0.163],[0.758,0.170],[0.772,0.159],[0.781,0.159],[0.756,0.153],[0.797,0.176],[0.874,0.177],[0.926,0.178],[0.934,0.171],[0.943,0.177],[0.968,0.174],[0.967,0.168],[0.981,0.161],[0.993,0.152],[0.968,0.146],[0.548,0.145],[0.547,0.135],[0.531,0.124],[0.624,0.141],[0.653,0.145],[0.683,0.142],[0.640,0.127],[0.653,0.127],[0.668,0.124],[0.715,0.145],[0.720,0.141],[0.726,0.128],[0.743,0.139],[0.751,0.121],[0.767,0.114],[0.754,0.138],[0.797,0.120],[0.803,0.113],[0.811,0.118],[0.829,0.142],[0.840,0.133],[0.831,0.113],[0.846,0.116],[0.854,0.142],[0.868,0.135],[0.879,0.141],[0.890,0.149],[0.904,0.147],[0.915,0.130],[0.918,0.133],[0.929,0.123],[0.943,0.145],[0.947,0.131],[0.924,0.108],[0.934,0.108],[0.954,0.109],[0.979,0.116],[0.513,0.105],[0.529,0.097],[0.540,0.096],[0.553,0.092],[0.565,0.105],[0.590,0.095],[0.596,0.100],[0.615,0.114],[0.629,0.103],[0.633,0.096],[0.661,0.095],[0.683,0.108],[0.701,0.093],[0.738,0.108],[0.765,0.089],[0.784,0.092],[0.808,0.089],[0.847,0.091],[0.893,0.106],[0.904,0.095],[0.967,0.096],[0.513,0.078],[0.533,0.080],[0.551,0.071],[0.560,0.066],[0.593,0.074],[0.608,0.067],[0.611,0.056],[0.618,0.085],[0.627,0.080],[0.597,0.049],[0.629,0.053],[0.704,0.066],[0.713,0.067],[0.726,0.078],[0.740,0.077],[0.706,0.048],[0.691,0.022],[0.656,0.041],[0.656,0.032],[0.628,0.038],[0.626,0.030],[0.623,0.022],[0.526,0.035],[0.529,0.030],[0.536,0.022],[0.504,0.031],[0.526,0.010],[0.534,0.006],[0.586,0.011],[0.617,0.010],[0.656,0.003],[0.729,0.002],[0.754,0.027],[0.756,0.016],[0.765,0.007],[0.776,0.002],[0.786,0.017],[0.790,0.005],[0.808,0.049],[0.815,0.035],[0.826,0.030],[0.827,0.049],[0.833,0.016],[0.847,0.021],[0.854,0.018],[0.863,0.016],[0.867,0.027],[0.870,0.049],[0.876,0.043],[0.861,0.010],[0.893,0.063],[0.897,0.074],[0.903,0.066],[0.897,0.088],[0.908,0.055],[0.910,0.035],[0.913,0.013],[0.918,0.046],[0.922,0.042],[0.924,0.038],[0.934,0.057],[0.946,0.042],[0.954,0.072],[0.958,0.067],[0.958,0.060],[0.960,0.052],[0.968,0.043],[0.974,0.085],[0.974,0.078],[0.983,0.042],[0.974,0.020],[0.976,0.013],[0.990,0.024],[0.993,0.017],[0.833,0.002],[0.886,0.002],[0.929,0.005],[0.940,0.003],[0.954,0.013],[0.965,0.011]
];

// V vs x
const vX = [-1, -0.8, -0.6, -0.4, -0.2, 0, 0, 0.2, 0.4, 0.6, 0.8, 1];
const vY = [0, 0, 0, 0, 0, 0, 0.5, 0.5, 0.5, 0.5, 0.5, 0.5];

const legendLabels = [
  {main: "E", sub: "inc", rest: " vs x"},
  {main: "E", sub: "tran", rest: " vs x"},
  {main: "V", sub: "", rest: " vs x"}
];

// ---- Build ----
const incData = eInc.map(([x, y]) => ({x, y}));
const tranData = eTran.map(([x, y]) => ({x, y}));
const vData = vX.map((x, i) => ({x, y: vY[i]}));
const xLab = new Map(xTicks.map((d, i) => [d, xTickLabels[i]]));
const yLab = new Map(yTicks.map((d, i) => [d, yTickLabels[i]]));

const W = 1040, H = 677, mL = 106, mR = 0, mT = 15, mB = 63;
const innerH = H - mT - mB, innerW = W - mL - mR;
const FONT = "Liberation Serif, Times New Roman, serif";
const STRETCH = 1.25;       // the reference's lettering is wider than Liberation Serif
const TITLE_STRETCH = 1.18;

const chart = Plot.plot({
  width: W, height: H,
  marginLeft: mL, marginRight: mR, marginTop: mT, marginBottom: mB,
  x: {domain: [-1, 1]},
  y: {domain: [0, 1]},
  style: {fontFamily: FONT, fontSize: "20px", background: "white", color: "black", overflow: "visible"},
  marks: [
    Plot.gridX(xTicks.slice(1, -1), {stroke: "#8a8a8a", strokeOpacity: 1, strokeWidth: 1, strokeDasharray: "1.5,3"}),
    Plot.gridY(yTicks.slice(1, -1), {stroke: "#8a8a8a", strokeOpacity: 1, strokeWidth: 1, strokeDasharray: "1.5,3"}),
    // inward ticks
    Plot.tickX(xTicks, {x: d => d, insetTop: innerH - 8, stroke: "black", strokeWidth: 1.5}),
    Plot.tickX(xTicks, {x: d => d, insetBottom: innerH - 8, stroke: "black", strokeWidth: 1.5}),
    Plot.tickY(yTicks, {y: d => d, insetRight: innerW - 8, stroke: "black", strokeWidth: 1.5}),
    Plot.tickY(yTicks, {y: d => d, insetLeft: innerW - 8, stroke: "black", strokeWidth: 1.5}),
    Plot.axisX(xTicks, {tickSize: 0, tickPadding: 15, tickFormat: d => xLab.get(d), label: null, fontSize: 20}),
    Plot.axisY(yTicks, {tickSize: 0, tickPadding: 13, tickFormat: d => yLab.get(d), label: null, fontSize: 20}),
    Plot.dot(incData, {x: "x", y: "y", r: 2.7, stroke: "#444", strokeWidth: 1.35, fill: "none"}),
    Plot.dot(tranData, {x: "x", y: "y", r: 1.8, fill: "black", stroke: "none"}),
    Plot.frame({stroke: "black", strokeWidth: 2}),
    Plot.dot(vData, {x: "x", y: "y", r: 5.5, stroke: "black", strokeWidth: 2.5, fill: "none"}),
    Plot.dot(vData, {x: "x", y: "y", r: 1.1, fill: "black"})
  ]
});

document.getElementById("chart").appendChild(chart);

// widen text along its own direction, around its anchor point
function widen(el, s) {
  const t = el.getAttribute("transform") || "";
  const xa = el.getAttribute("x");
  if (xa !== null && xa !== "" && !isNaN(+xa) && +xa !== 0) {
    el.removeAttribute("x");
    el.setAttribute("transform", `${t} translate(${xa},0) scale(${s},1)`.trim());
  } else {
    el.setAttribute("transform", `${t} scale(${s},1)`.trim());
  }
}
chart.querySelectorAll("text").forEach(el => widen(el, STRETCH));

// Axis titles and key
const svg = d3.select(chart);
const xs = chart.scale("x"), ys = chart.scale("y");
svg.append("text")
  .attr("transform", `translate(${xs.apply(0)},669) scale(${TITLE_STRETCH},1)`)
  .attr("text-anchor", "middle")
  .attr("font-family", FONT).attr("font-size", 23)
  .attr("fill", "black")
  .text("Particle position (mm)");
svg.append("text")
  .attr("transform", `translate(27,${ys.apply(0.5)}) rotate(-90) scale(${TITLE_STRETCH},1)`)
  .attr("text-anchor", "middle")
  .attr("font-family", FONT).attr("font-size", 23)
  .attr("fill", "black")
  .text("Particle energy (kev)");

const key = svg.append("g").attr("font-family", FONT).attr("font-size", 19.5).attr("fill", "black");
const rowY = [33, 52, 71];
legendLabels.forEach((lab, i) => {
  const t = key.append("text").attr("transform", `translate(943,${rowY[i]}) scale(1.22,1)`).attr("dy", "0.32em").attr("text-anchor", "end");
  t.append("tspan").text(lab.main);
  if (lab.sub) {
    t.append("tspan").attr("dy", "0.3em").attr("font-size", 15.6).text(lab.sub);
    t.append("tspan").attr("dy", "-0.3em").text(lab.rest);
  } else {
    t.append("tspan").text(lab.rest);
  }
});
key.append("circle").attr("cx", 986).attr("cy", rowY[0]).attr("r", 2.7).attr("fill", "none").attr("stroke", "#444").attr("stroke-width", 1.35);
key.append("circle").attr("cx", 986).attr("cy", rowY[1]).attr("r", 1.8).attr("fill", "black");
key.append("circle").attr("cx", 986).attr("cy", rowY[2]).attr("r", 5.5).attr("fill", "none").attr("stroke", "black").attr("stroke-width", 2.5);
key.append("circle").attr("cx", 986).attr("cy", rowY[2]).attr("r", 1.1).attr("fill", "black");
</script>
</body>
</html>
